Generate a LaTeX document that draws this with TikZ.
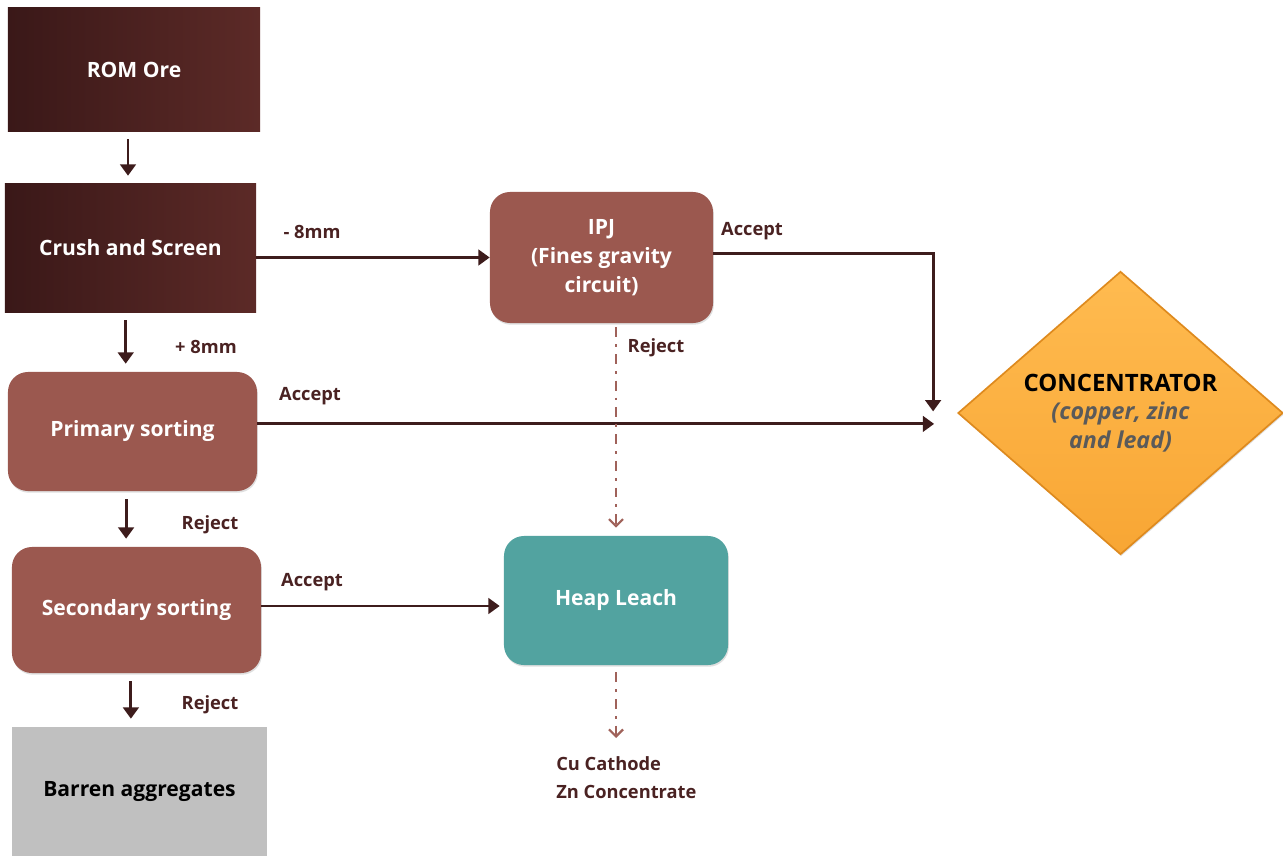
\documentclass[tikz,border=0pt]{standalone}
\usepackage{fontspec}
\setmainfont{Open Sans}
\usetikzlibrary{positioning, calc, shapes.geometric, shadows, arrows.meta}

\definecolor{oredark}{HTML}{3A1818}
\definecolor{orelight}{HTML}{5C2A27}
\definecolor{sortbrown}{HTML}{9B584F}
\definecolor{leachteal}{HTML}{52A3A0}
\definecolor{barrengray}{HTML}{C0C0C0}
\definecolor{flowdark}{HTML}{3D1C1C}
\definecolor{rejectline}{HTML}{A0625A}
\definecolor{labeltext}{HTML}{4A2222}
\definecolor{conctop}{HTML}{FFBB50}
\definecolor{concbot}{HTML}{F8A634}
\definecolor{concedge}{HTML}{DE8A1E}
\definecolor{subgray}{HTML}{5A5A5A}

\tikzset{
  boxtext/.style={font=\fontsize{15}{20.5}\selectfont\bfseries, align=center, inner sep=0pt},
  softshadow/.style={drop shadow={opacity=0.25, shadow xshift=0.6pt, shadow yshift=-1.2pt}},
  darkbox/.style={boxtext, text=white, left color=oredark, right color=orelight},
  sortbox/.style={boxtext, text=white, fill=sortbrown, rounded corners=0.5cm, softshadow},
  leachbox/.style={boxtext, text=white, fill=leachteal, rounded corners=0.5cm, softshadow},
  barrenbox/.style={boxtext, text=black, fill=barrengray},
  concbox/.style={boxtext, shape=diamond, minimum width=8.125cm, minimum height=7.075cm,
    top color=conctop, bottom color=concbot, draw=concedge, line width=1.2pt, softshadow},
  lbl/.style={font=\fontsize{13}{20}\selectfont\bfseries, text=labeltext, inner sep=0pt},
  flow/.style={->, draw=flowdark, line width=2pt},
  vflow/.style={flow, shorten <=0.2cm, shorten >=0.2cm},
  reject/.style={-{Straight Barb[length=5pt,width=10pt]}, draw=rejectline, line width=1.6pt,
    dash pattern=on 7pt off 5pt on 2pt off 5pt}
}

\begin{document}
\begin{tikzpicture}[x=0.025cm, y=-0.025cm, >={Triangle[length=8pt,width=11pt]}]
  \useasboundingbox (0,0) rectangle (1283,856);

  % main column
  \node[darkbox, minimum width=6.3cm, minimum height=3.075cm] (rom) at (134,69.5) {ROM Ore};
  \node[darkbox, minimum width=6.275cm, minimum height=3.2cm] (crush) at (130.5,248) {Crush and Screen};
  \node[sortbox, minimum width=6.225cm, minimum height=2.975cm] (primary) at (132.5,431.5) {Primary sorting};
  \node[sortbox, minimum width=6.225cm, minimum height=3.15cm] (secondary) at (136.5,610) {Secondary sorting};
  \node[barrenbox, minimum width=6.375cm, minimum height=3.225cm] (barren) at (139.5,791.5) {Barren aggregates};

  % fines and leach
  \node[sortbox, minimum width=5.575cm, minimum height=3.275cm] (ipj) at (601.5,257.5) {IPJ\\(Fines gravity\\circuit)};
  \node[leachbox, minimum width=5.6cm, minimum height=3.225cm] (heap) at (616,600.5) {Heap Leach};
  \node[lbl, anchor=north west, align=left] (prod) at (556,756) {Cu Cathode\\Zn Concentrate};

  % concentrator
  \node[concbox] (conc) at (1120.5,413) {\fontsize{17}{20.5}\selectfont CONCENTRATOR\\
    {\fontsize{16.5}{20.5}\selectfont\color{subgray}\itshape (copper, zinc}\\{\fontsize{16.5}{20.5}\selectfont\color{subgray}\itshape and lead)}};

  % flows
  \draw[vflow] ([xshift=-0.15cm]rom.south) -- ([xshift=-0.15cm]rom.south |- crush.north);
  \draw[vflow] ([xshift=-0.12cm]crush.south) -- ([xshift=-0.12cm]crush.south |- primary.north);
  \draw[vflow] ([xshift=-0.16cm]primary.south) -- ([xshift=-0.16cm]primary.south |- secondary.north);
  \draw[vflow] ([xshift=-0.14cm]secondary.south) -- ([xshift=-0.14cm]secondary.south |- barren.north);

  \draw[flow] (crush.east |- ipj.west) -- (ipj.west);
  \draw[flow] ([yshift=0.1cm]ipj.east) -| ([xshift=-0.6cm, yshift=0.04cm]conc.west);
  \draw[flow, shorten >=0.575cm] ([yshift=0.19cm]primary.east) -- ([yshift=0.19cm]primary.east -| conc.west);
  \draw[flow, shorten >=0.1cm] ([yshift=0.1cm]secondary.east) -- ([yshift=0.1cm]secondary.east -| heap.west);

  \draw[reject, shorten <=0.1cm, shorten >=0.2cm] (ipj.south -| heap.north) -- (heap.north);
  \draw[reject, shorten <=0.175cm, shorten >=0.45cm] (heap.south) -- (heap.south |- prod.north);

  % stream labels
  \node[lbl] (minus) at (312,232) {- 8mm};
  \node[lbl] (ipjacc) at (752,231) {Accept};
  \node[lbl] (plus) at (206,347) {+ 8mm};
  \node[lbl] (ipjrej) at (656,348) {Reject};
  \node[lbl] (priacc) at (310,396) {Accept};
  \node[lbl] (prirej) at (210,525) {Reject};
  \node[lbl] (secacc) at (312,582) {Accept};
  \node[lbl] (secrej) at (210,705) {Reject};
\end{tikzpicture}
\end{document}
